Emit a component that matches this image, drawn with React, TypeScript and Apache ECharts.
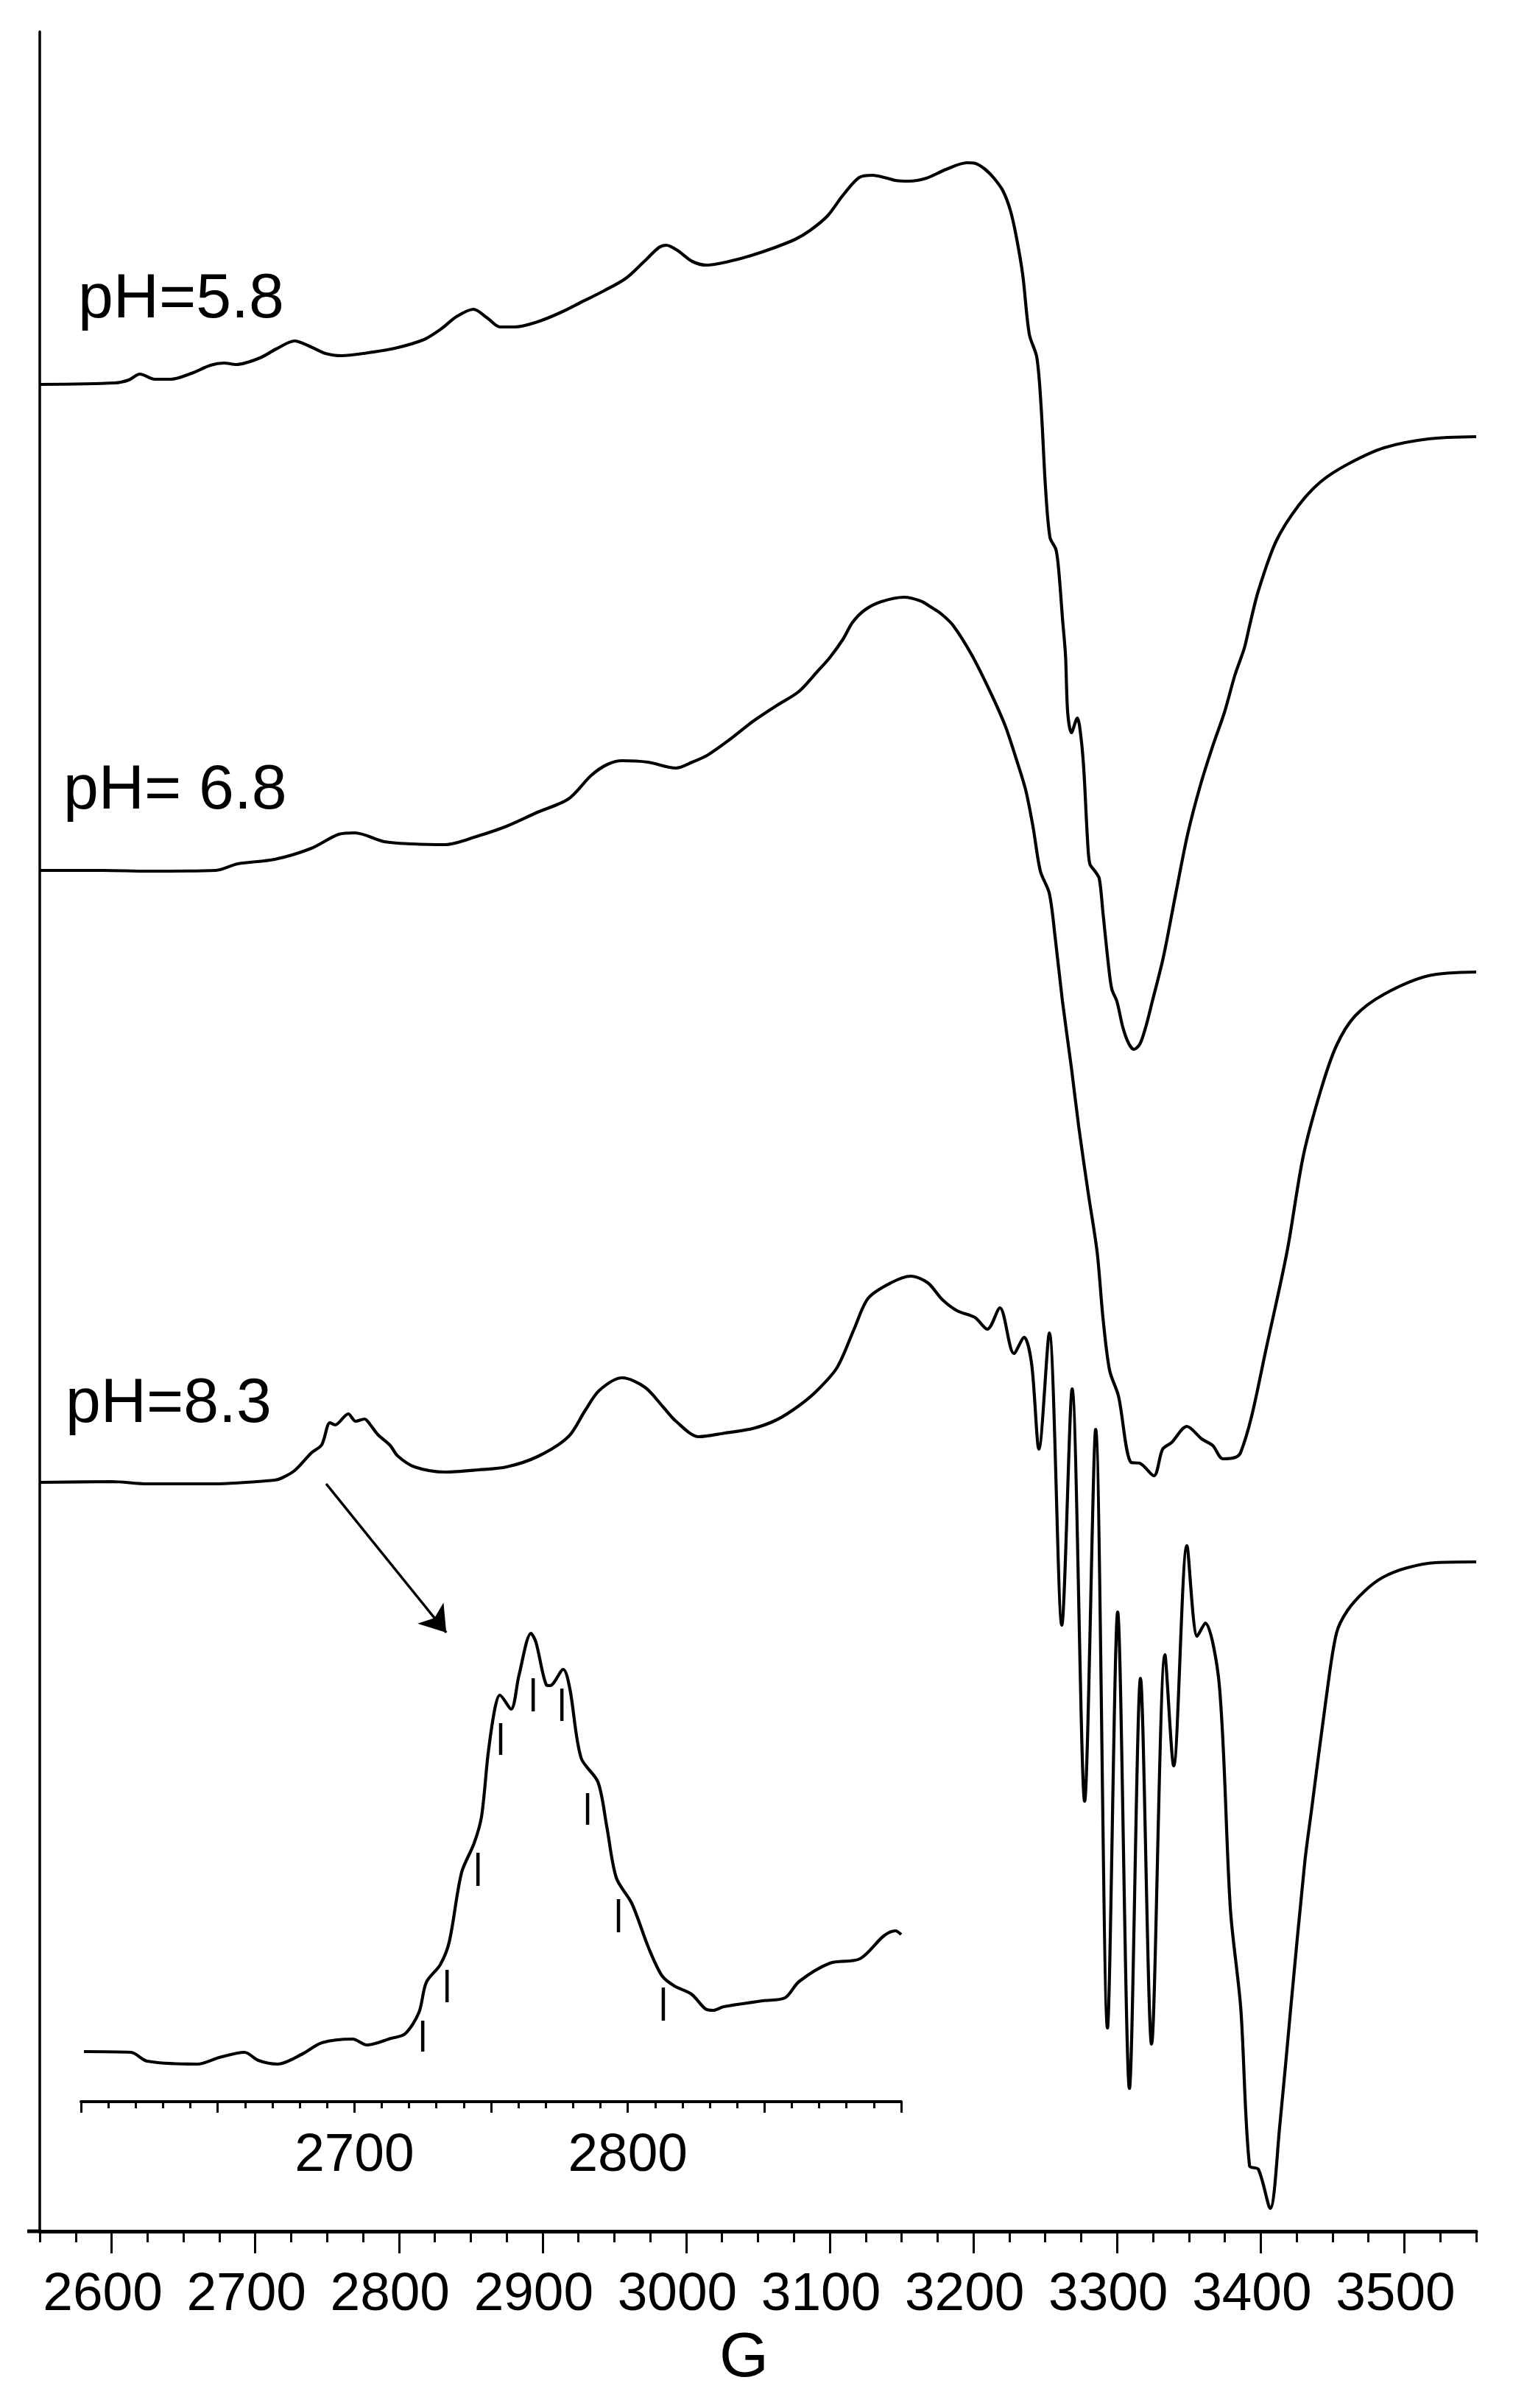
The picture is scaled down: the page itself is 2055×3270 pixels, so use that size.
import React, { useEffect, useRef } from "react";
import * as echarts from "echarts";

// ---- Main spectra (field in G, intensity in arbitrary units, already offset) ----
const field58 = [2550.5, 2602.3, 2612.0, 2619.7, 2630.0, 2641.2, 2655.6, 2668.9, 2678.2, 2686.9, 2703.3, 2714.5, 2727.4, 2737.6, 2748.9, 2760.2, 2778.6, 2797.1, 2817.6, 2829.9, 2840.1, 2851.9, 2861.7, 2870.4, 2880.6, 2896.5, 2911.9, 2927.3, 2942.7, 2958.0, 2970.8, 2981.1, 2986.2, 2993.9, 3004.2, 3014.4, 3029.8, 3045.2, 3060.5, 3075.9, 3086.2, 3098.5, 3109.2, 3120.5, 3129.8, 3140.0, 3145.6, 3154.9, 3167.2, 3181.0, 3195.4, 3201.5, 3208.2, 3214.3, 3220.5, 3225.6, 3229.7, 3234.3, 3238.9, 3244.1, 3247.1, 3250.2, 3253.3, 3257.4, 3259.4, 3262.0, 3264.1, 3265.6, 3268.2, 3272.3, 3274.8, 3276.9, 3279.4, 3281.0, 3284.6, 3287.6, 3290.2, 3293.8, 3296.3, 3299.9, 3304.0, 3308.1, 3311.7, 3315.8, 3319.9, 3324.5, 3332.2, 3340.9, 3349.1, 3357.9, 3366.6, 3374.8, 3382.0, 3388.6, 3392.2, 3398.4, 3410.7, 3426.5, 3441.9, 3460.9, 3486.0, 3516.8, 3550];
const int58 = [2508, 2510, 2514, 2522, 2515, 2515, 2523, 2534, 2537, 2535, 2544, 2556, 2567, 2560, 2550, 2547, 2551, 2557, 2569, 2584, 2600, 2610, 2598, 2586, 2586, 2593, 2605, 2620, 2635, 2652, 2675, 2694, 2697, 2690, 2675, 2670, 2675, 2683, 2693, 2705, 2717, 2737, 2765, 2789, 2792, 2788, 2785, 2784, 2788, 2800, 2809, 2808, 2800, 2788, 2771, 2745, 2710, 2657, 2576, 2545, 2478, 2367, 2300, 2284, 2255, 2190, 2140, 2063, 2035, 2055, 2030, 1983, 1890, 1857, 1847, 1837, 1790, 1723, 1687, 1670, 1635, 1613, 1605, 1612, 1635, 1670, 1730, 1817, 1897, 1963, 2017, 2063, 2113, 2150, 2180, 2228, 2295, 2344, 2376, 2400, 2422, 2434, 2437];

const field68 = [2550.5, 2594.1, 2624.8, 2672.5, 2687.9, 2713.5, 2739.1, 2758.1, 2769.4, 2789.9, 2809.4, 2832.4, 2855.5, 2875.0, 2896.5, 2918.0, 2933.9, 2945.2, 2955.5, 2973.4, 2992.9, 3004.2, 3014.4, 3029.8, 3046.2, 3063.1, 3078.5, 3091.3, 3100.0, 3109.2, 3115.9, 3124.6, 3135.9, 3151.8, 3163.1, 3170.2, 3178.4, 3186.1, 3199.0, 3211.8, 3222.0, 3229.7, 3236.4, 3241.5, 3246.6, 3252.8, 3256.9, 3262.0, 3268.2, 3273.3, 3279.9, 3286.1, 3290.2, 3294.8, 3301.0, 3309.7, 3315.8, 3325.6, 3331.7, 3337.9, 3348.6, 3358.9, 3366.6, 3373.7, 3382.5, 3386.1, 3393.7, 3403.5, 3418.3, 3429.6, 3441.9, 3452.7, 3465.5, 3486.0, 3516.8, 3550];
const int68 = [1848, 1848, 1847, 1848, 1857, 1863, 1878, 1897, 1899, 1887, 1884, 1883, 1895, 1908, 1927, 1945, 1977, 1992, 1997, 1995, 1987, 1995, 2004, 2025, 2050, 2072, 2091, 2118, 2137, 2162, 2185, 2202, 2213, 2219, 2214, 2206, 2195, 2180, 2140, 2090, 2045, 2000, 1957, 1907, 1847, 1817, 1757, 1670, 1580, 1500, 1410, 1330, 1240, 1169, 1134, 1044, 1043, 1026, 1062, 1071, 1093, 1076, 1067, 1049, 1051, 1058, 1107, 1196, 1330, 1460, 1550, 1610, 1650, 1680, 1705, 1710];

const field83 = [2550.5, 2600.2, 2624.8, 2671.0, 2713.5, 2718.6, 2727.4, 2739.1, 2746.3, 2752.0, 2755.6, 2764.8, 2769.9, 2776.1, 2780.2, 2785.3, 2794.0, 2799.1, 2810.9, 2832.4, 2855.5, 2875.0, 2896.5, 2918.0, 2929.8, 2939.6, 2955.5, 2971.4, 2983.7, 2992.9, 3008.8, 3027.2, 3046.2, 3063.1, 3078.5, 3091.3, 3105.1, 3116.9, 3126.7, 3142.6, 3156.4, 3168.2, 3178.4, 3188.7, 3201.0, 3209.7, 3218.4, 3228.2, 3235.3, 3240.5, 3245.6, 3252.8, 3261.5, 3268.7, 3277.4, 3285.1, 3293.3, 3300.4, 3308.6, 3316.3, 3324.0, 3333.3, 3339.4, 3348.6, 3355.8, 3361.4, 3371.2, 3378.9, 3386.1, 3392.2, 3398.4, 3406.6, 3413.2, 3420.9, 3430.6, 3435.3, 3445.5, 3452.7, 3460.4, 3472.7, 3485.0, 3501.9, 3521.9, 3550];
const int83 = [1017, 1018, 1015, 1015, 1020, 1023, 1033, 1057, 1068, 1098, 1095, 1110, 1100, 1103, 1095, 1082, 1067, 1053, 1038, 1031, 1034, 1038, 1052, 1079, 1115, 1142, 1159, 1146, 1120, 1100, 1079, 1084, 1090, 1102, 1121, 1142, 1173, 1225, 1267, 1288, 1297, 1288, 1265, 1250, 1241, 1225, 1254, 1192, 1214, 1178, 1062, 1220, 823, 1144, 584, 1089, 276, 841, 194, 751, 254, 783, 632, 931, 808, 826, 741, 437, 303, 89, 84, 31, 142, 303, 500, 571, 723, 812, 843, 870, 888, 901, 908, 909];

// ---- Inset: enlarged pH 8.3 low-field line ----
const insetField = [2601.1, 2618.3, 2624.2, 2642.6, 2650.6, 2659.8, 2664.9, 2671.9, 2681.1, 2688.1, 2699.4, 2704.5, 2713.4, 2718.5, 2723.6, 2726.3, 2731.4, 2734.7, 2739.2, 2743.8, 2746.5, 2748.9, 2751.4, 2753.2, 2757.3, 2760.2, 2764.6, 2766.4, 2770.2, 2771.6, 2776.4, 2778.8, 2782.9, 2789.1, 2792.3, 2795.8, 2801.5, 2807.6, 2812.5, 2817.1, 2823.3, 2828.4, 2831.3, 2835.1, 2849.4, 2857.5, 2862.6, 2873.9, 2884.9, 2893.6, 2897.9, 2900];
const insetInt = [68, 67, 55, 51, 60, 67, 56, 51, 65, 80, 85, 77, 86, 92, 121, 162, 186, 217, 311, 351, 387, 472, 534, 552, 533, 579, 636, 624, 566, 565, 587, 561, 467, 434, 374, 304, 269, 209, 171, 157, 146, 126, 124, 129, 137, 141, 163, 188, 194, 225, 232, 227];

// hyperfine stick positions (G) with their lower / upper ends
const stickField = [2725.0, 2733.9, 2745.2, 2753.5, 2765.4, 2775.9, 2785.3, 2796.6, 2813.0];
const stickLow = [68, 135, 293, 471, 530, 517, 376, 230, 110];
const stickHigh = [110, 179, 338, 514, 575, 561, 419, 275, 155];

// ---- Axes / annotation data ----
const mainTickLabels = [2600, 2700, 2800, 2900, 3000, 3100, 3200, 3300, 3400, 3500];
const insetMajorTicks = [2600, 2650, 2700, 2750, 2800, 2850, 2900];
const insetTickLabels = [2700, 2800];
const phLabels = ["pH=5.8", "pH= 6.8", "pH=8.3"];
const arrowFrom = [2749.4, 1015];
const arrowTo = [2833.0, 813];

const FONT = '"Liberation Sans", Arial, Helvetica, sans-serif';

function zip(a: number[], b: number[]) {
  return a.map((v, i) => [v, b[i]]);
}

export default function App() {
  const ref = useRef<HTMLDivElement>(null);

  useEffect(() => {
    document.body.style.margin = "0";
    if (!ref.current) return;
    const chart = echarts.init(ref.current, undefined, { renderer: "svg" });

    const lineStyle = { color: "#000", width: 4.2 };
    const baseSeries = (name: string, data: number[][], xi: number, yi: number) => ({
      name,
      type: "line",
      data,
      xAxisIndex: xi,
      yAxisIndex: yi,
      showSymbol: false,
      symbol: "none",
      smooth: 0.3,
      lineStyle,
      silent: true,
      z: 3,
    });
    const plain = (v: number) => String(v);

    const option: any = {
      animation: false,
      backgroundColor: "#fff",
      grid: [
        { left: 54, right: 50, top: 43, bottom: 240 },
        { left: 110, right: 831, top: 2150, bottom: 416 },
      ],
      xAxis: [
        {
          gridIndex: 0,
          type: "value",
          min: 2550,
          max: 3550,
          interval: 25,
          position: "bottom",
          axisLine: { show: true, onZero: false, lineStyle: { color: "#000", width: 5 } },
          axisTick: { show: true, length: 15, lineStyle: { color: "#000", width: 3 } },
          axisLabel: {
            show: true,
            customValues: mainTickLabels,
            formatter: plain,
            margin: 45,
            fontSize: 73,
            fontFamily: FONT,
            color: "#000",
            padding: [0, 24, 0, 0],
          },
          splitLine: { show: false },
          name: "G",
          nameLocation: "middle",
          nameGap: 124,
          nameTextStyle: { fontSize: 86, fontFamily: FONT, color: "#000", padding: [0, 38, 0, 0] },
        },
        {
          gridIndex: 0,
          type: "value",
          min: 2550,
          max: 3550,
          position: "bottom",
          axisLine: { show: false, onZero: false },
          axisTick: { show: true, customValues: mainTickLabels, length: 30, lineStyle: { color: "#000", width: 3 } },
          axisLabel: { show: false },
          splitLine: { show: false },
        },
        {
          gridIndex: 1,
          type: "value",
          min: 2600,
          max: 2900,
          interval: 10,
          position: "bottom",
          axisLine: { show: true, onZero: false, lineStyle: { color: "#000", width: 4 } },
          axisTick: { show: true, length: 9, lineStyle: { color: "#000", width: 3 } },
          axisLabel: {
            show: true,
            customValues: insetTickLabels,
            formatter: plain,
            margin: 32,
            fontSize: 73,
            fontFamily: FONT,
            color: "#000",
          },
          splitLine: { show: false },
        },
        {
          gridIndex: 1,
          type: "value",
          min: 2600,
          max: 2900,
          position: "bottom",
          axisLine: { show: false, onZero: false },
          axisTick: { show: true, customValues: insetMajorTicks, length: 15, lineStyle: { color: "#000", width: 3 } },
          axisLabel: { show: false },
          splitLine: { show: false },
        },
      ],
      yAxis: [
        {
          gridIndex: 0,
          type: "value",
          min: 0,
          max: 2987,
          axisLine: { show: true, onZero: false, lineStyle: { color: "#000", width: 3.5 } },
          axisTick: { show: false },
          axisLabel: { show: false },
          splitLine: { show: false },
        },
        {
          gridIndex: 1,
          type: "value",
          min: 0,
          max: 704,
          show: false,
          splitLine: { show: false },
        },
      ],
      series: [
        baseSeries("pH 5.8", zip(field58, int58), 0, 0),
        baseSeries("pH 6.8", zip(field68, int68), 0, 0),
        {
          ...baseSeries("pH 8.3", zip(field83, int83), 0, 0),
          markLine: {
            silent: true,
            symbol: ["none", "arrow"],
            symbolSize: 34,
            label: { show: false },
            lineStyle: { color: "#000", width: 3.5, type: "solid" },
            itemStyle: { color: "#000" },
            emphasis: { disabled: true },
            data: [[{ coord: arrowFrom }, { coord: arrowTo }]],
          },
        },
        baseSeries("inset pH 8.3", zip(insetField, insetInt), 2, 1),
        {
          name: "sticks",
          type: "custom",
          xAxisIndex: 2,
          yAxisIndex: 1,
          silent: true,
          data: stickField.map((f, i) => [f, stickLow[i], stickHigh[i]]),
          renderItem: (params: any, api: any) => {
            const p1 = api.coord([api.value(0), api.value(1)]);
            const p2 = api.coord([api.value(0), api.value(2)]);
            return {
              type: "line",
              shape: { x1: p1[0], y1: p1[1], x2: p2[0], y2: p2[1] },
              style: { stroke: "#000", lineWidth: 4.5 },
            };
          },
        },
      ],
      graphic: [
        // small overhang of the field axis to the left of the intensity axis
        { type: "line", shape: { x1: 37, y1: 3030, x2: 56, y2: 3030 }, style: { stroke: "#000", lineWidth: 5 } },
        { type: "text", x: 106, y: 401, style: { text: phLabels[0], fontSize: 86, fontFamily: FONT, fill: "#000", align: "left", verticalAlign: "middle" } },
        { type: "text", x: 86, y: 1068, style: { text: phLabels[1], fontSize: 86, fontFamily: FONT, fill: "#000", align: "left", verticalAlign: "middle" } },
        { type: "text", x: 89, y: 1901, style: { text: phLabels[2], fontSize: 86, fontFamily: FONT, fill: "#000", align: "left", verticalAlign: "middle" } },
      ],
    };

    chart.setOption(option);
    return () => chart.dispose();
  }, []);

  return <div ref={ref} style={{ width: 2055, height: 3270, background: "#fff" }} />;
}
